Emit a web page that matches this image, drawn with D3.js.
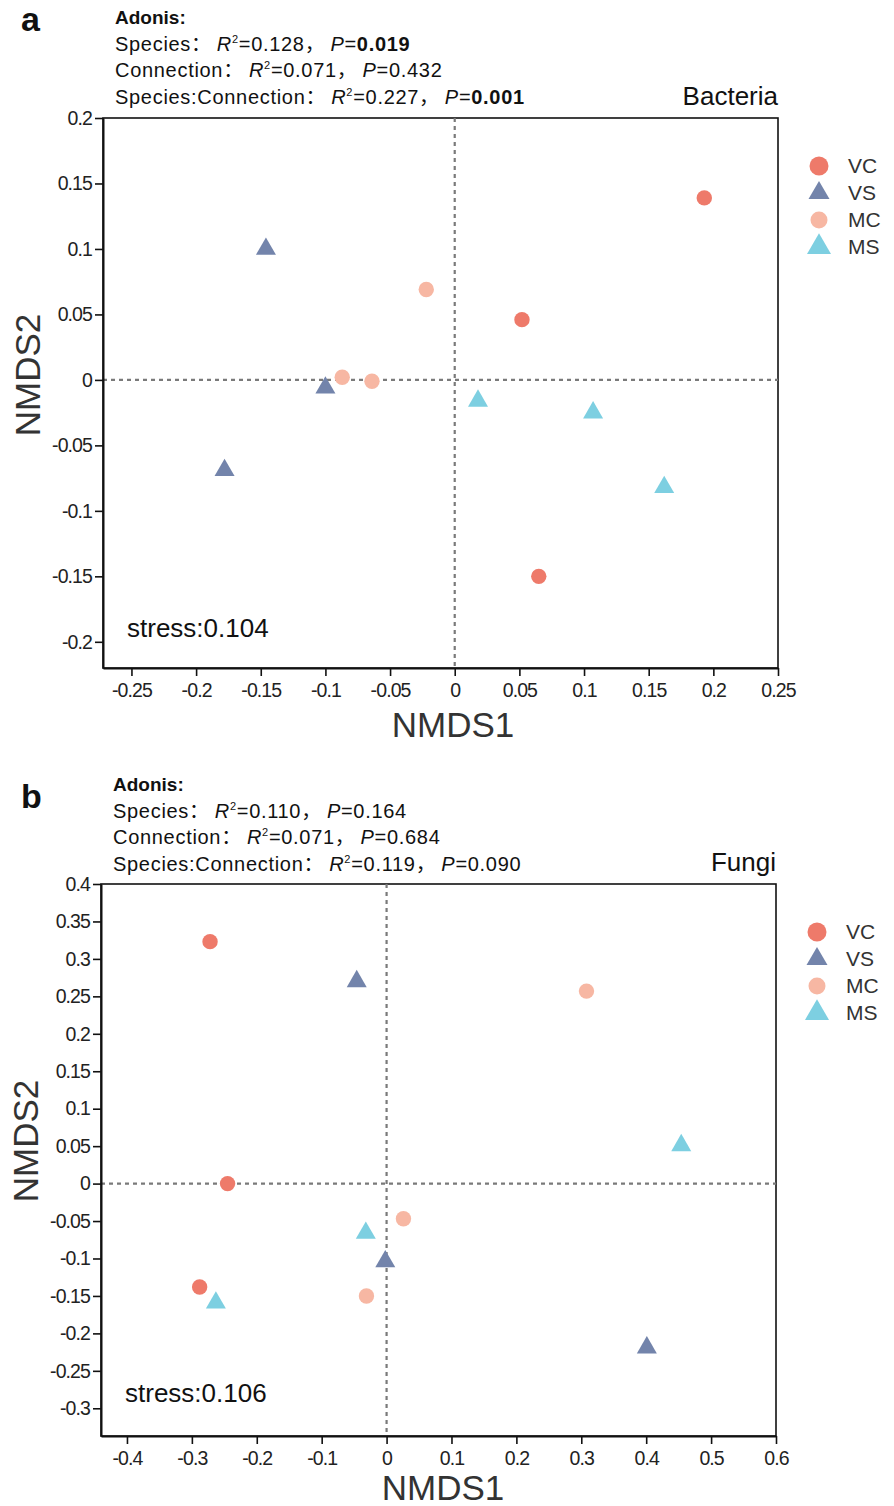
<!DOCTYPE html>
<html><head><meta charset="utf-8">
<script src="https://cdn.jsdelivr.net/npm/d3@7"></script>
<style>
body{margin:0;background:#fff}
svg text{font-family:"Liberation Sans",Arial,"Noto Sans CJK SC",sans-serif}
</style></head>
<body><svg id="chart" width="894" height="1506"></svg>
<script>
// ---------- DATA ----------
const groups = ["VC", "VS", "MC", "MS"];
const groupColors = ["#EE7A6A", "#7384AB", "#F7B7A3", "#7DCFE1"];
const groupShapes = ["circle", "triangle", "circle", "triangle"];

// Bacteria NMDS points [NMDS1, NMDS2]
const bacteriaVC = [[0.193, 0.139], [0.052, 0.046], [0.065, -0.150]];
const bacteriaVS = [[-0.146, 0.100], [-0.100, -0.006], [-0.178, -0.069]];
const bacteriaMC = [[-0.022, 0.069], [-0.087, 0.002], [-0.064, -0.001]];
const bacteriaMS = [[0.018, -0.016], [0.107, -0.025], [0.162, -0.082]];
const bacteriaXTicks = [-0.25, -0.2, -0.15, -0.1, -0.05, 0, 0.05, 0.1, 0.15, 0.2, 0.25];
const bacteriaYTicks = [-0.2, -0.15, -0.1, -0.05, 0, 0.05, 0.1, 0.15, 0.2];
const bacteriaXDomain = [-0.272, 0.25];
const bacteriaYDomain = [-0.22, 0.2];
const bacteriaStress = "stress:0.104";
const bacteriaStats = [
  {name: "Species", r2: "0.128", p: "0.019", sig: true},
  {name: "Connection", r2: "0.071", p: "0.432", sig: false},
  {name: "Species:Connection", r2: "0.227", p: "0.001", sig: true}
];

// Fungi NMDS points
const fungiVC = [[-0.272, 0.323], [-0.245, 0.000], [-0.288, -0.138]];
const fungiVS = [[-0.046, 0.270], [-0.002, -0.104], [0.401, -0.219]];
const fungiMC = [[0.308, 0.257], [0.026, -0.047], [-0.031, -0.150]];
const fungiMS = [[0.454, 0.051], [-0.032, -0.066], [-0.263, -0.159]];
const fungiXTicks = [-0.4, -0.3, -0.2, -0.1, 0, 0.1, 0.2, 0.3, 0.4, 0.5, 0.6];
const fungiYTicks = [-0.3, -0.25, -0.2, -0.15, -0.1, -0.05, 0, 0.05, 0.1, 0.15, 0.2, 0.25, 0.3, 0.35, 0.4];
const fungiXDomain = [-0.44, 0.6];
const fungiYDomain = [-0.337, 0.4];
const fungiStress = "stress:0.106";
const fungiStats = [
  {name: "Species", r2: "0.110", p: "0.164", sig: false},
  {name: "Connection", r2: "0.071", p: "0.684", sig: false},
  {name: "Species:Connection", r2: "0.119", p: "0.090", sig: false}
];

// ---------- DRAW ----------
const svg = d3.select("#chart");

function trianglePath(side) {
  const h = side * Math.sqrt(3) / 2;
  return `M0,${-h * 2 / 3}L${side / 2},${h / 3}L${-side / 2},${h / 3}Z`;
}

function drawPanel(cfg) {
  const {letter, title, box, xDomain, yDomain, xTicks, yTicks, series, stats, stress, hdr} = cfg;
  const g = svg.append("g");
  const x = d3.scaleLinear().domain(xDomain).range([box.left, box.right]);
  const y = d3.scaleLinear().domain(yDomain).range([box.bottom, box.top]);

  // panel letter
  g.append("text").attr("x", 21).attr("y", hdr.letterY).text(letter)
    .attr("font-size", 34).attr("font-weight", "bold").attr("fill", "#111");

  // Adonis header
  g.append("text").attr("x", hdr.x).attr("y", hdr.y0).text("Adonis:")
    .attr("font-size", 19).attr("font-weight", "bold").attr("fill", "#111");
  stats.forEach((s, i) => {
    const t = g.append("text").attr("x", hdr.x).attr("y", hdr.y0 + 26.5 * (i + 1))
      .attr("font-size", 20).attr("fill", "#111").attr("letter-spacing", 0.7);
    t.append("tspan").text(s.name + "：");
    t.append("tspan").attr("font-style", "italic").attr("dx", 5).text("R");
    t.append("tspan").attr("font-size", 11).attr("dy", -8).text("2");
    t.append("tspan").attr("dy", 8).text("=" + s.r2 + "，");
    t.append("tspan").attr("font-style", "italic").attr("dx", 5).text("P");
    t.append("tspan").text("=");
    t.append("tspan").attr("font-weight", s.sig ? "bold" : "normal").text(s.p);
  });

  // title
  g.append("text").attr("x", box.right).attr("y", box.top - 13).attr("text-anchor", "end")
    .attr("font-size", 26).attr("fill", "#111").text(title);

  // box
  g.append("rect").attr("x", box.left).attr("y", box.top)
    .attr("width", box.right - box.left).attr("height", box.bottom - box.top)
    .attr("fill", "none").attr("stroke", "#111").attr("stroke-width", 1.6);

  // zero lines
  g.append("line").attr("x1", x(0)).attr("x2", x(0)).attr("y1", box.top).attr("y2", box.bottom)
    .attr("stroke", "#7a7a7a").attr("stroke-width", 2.2).attr("stroke-dasharray", "4,4");
  g.append("line").attr("x1", box.left).attr("x2", box.right).attr("y1", y(0)).attr("y2", y(0))
    .attr("stroke", "#7a7a7a").attr("stroke-width", 2.2).attr("stroke-dasharray", "4,4");

  // axes
  const fmt = v => String(+v.toFixed(3));
  const xa = g.append("g").attr("transform", `translate(0,${box.bottom})`)
    .call(d3.axisBottom(x).tickValues(xTicks).tickFormat(fmt).tickSize(8).tickPadding(7).tickSizeOuter(0));
  const ya = g.append("g").attr("transform", `translate(${box.left},0)`)
    .call(d3.axisLeft(y).tickValues(yTicks).tickFormat(fmt).tickSize(8).tickPadding(3).tickSizeOuter(0));
  [xa, ya].forEach(a => {
    a.select(".domain").attr("stroke", "#111").attr("stroke-width", 2);
    a.selectAll(".tick line").attr("stroke", "#111").attr("stroke-width", 1.6);
    a.selectAll(".tick text").attr("font-size", 19.5).attr("fill", "#222")
      .attr("letter-spacing", -0.9).style("font-family", '"Liberation Sans",Arial,sans-serif');
  });

  // axis titles
  g.append("text").attr("x", hdr.xTitleX).attr("y", box.bottom + hdr.xTitleDy)
    .attr("text-anchor", "middle").attr("font-size", 35).attr("fill", "#333").text("NMDS1");
  g.append("text").attr("transform", `translate(${hdr.yTitleX},${hdr.yTitleY}) rotate(-90)`)
    .attr("text-anchor", "middle").attr("font-size", 35).attr("fill", "#333").text("NMDS2");

  // stress
  g.append("text").attr("x", box.left + 24).attr("y", hdr.stressY)
    .attr("font-size", 26).attr("fill", "#111").text(stress);

  // points
  series.forEach((pts, i) => {
    const shape = groupShapes[i];
    const sel = g.append("g").selectAll("path").data(pts).join("path")
      .attr("fill", groupColors[i])
      .attr("transform", d => `translate(${x(d[0])},${y(d[1])})`);
    if (shape === "circle") {
      sel.attr("d", d3.symbol().type(d3.symbolCircle).size(Math.PI * 7.7 * 7.7)());
    } else {
      sel.attr("d", trianglePath(20));
    }
  });

  // legend
  groups.forEach((name, i) => {
    const ly = hdr.legendY + i * 27;
    const lg = g.append("g").attr("transform", `translate(${hdr.legendX},${ly})`);
    if (groupShapes[i] === "circle") {
      const r = i === 0 ? 9.5 : 8.5;
      lg.append("circle").attr("r", r).attr("fill", groupColors[i]);
    } else {
      lg.append("path").attr("d", trianglePath(i === 1 ? 21 : 24)).attr("fill", groupColors[i]);
    }
    lg.append("text").attr("x", 29).attr("y", 7).attr("font-size", 21).attr("fill", "#333").text(name);
  });
}

drawPanel({
  letter: "a", title: "Bacteria",
  box: {left: 103, right: 778, top: 118, bottom: 668},
  xDomain: bacteriaXDomain, yDomain: bacteriaYDomain,
  xTicks: bacteriaXTicks, yTicks: bacteriaYTicks,
  series: [bacteriaVC, bacteriaVS, bacteriaMC, bacteriaMS],
  stats: bacteriaStats, stress: bacteriaStress,
  hdr: {letterY: 31, x: 115, y0: 24, stressY: 637, yTitleX: 40, yTitleY: 375, xTitleX: 453, xTitleDy: 69,
        legendX: 819, legendY: 166}
});

drawPanel({
  letter: "b", title: "Fungi",
  box: {left: 101, right: 776, top: 884, bottom: 1436},
  xDomain: fungiXDomain, yDomain: fungiYDomain,
  xTicks: fungiXTicks, yTicks: fungiYTicks,
  series: [fungiVC, fungiVS, fungiMC, fungiMS],
  stats: fungiStats, stress: fungiStress,
  hdr: {letterY: 808, x: 113, y0: 791, stressY: 1402, yTitleX: 38, yTitleY: 1141, xTitleX: 443, xTitleDy: 64,
        legendX: 817, legendY: 932}
});
</script></body></html>
